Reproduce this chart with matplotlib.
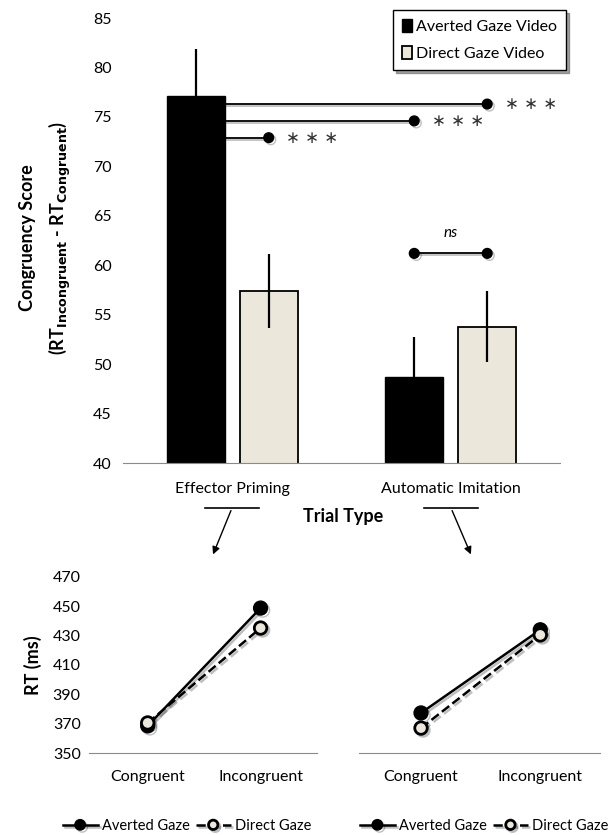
import numpy as np
import matplotlib
matplotlib.use("Agg")
import matplotlib.pyplot as plt
import matplotlib.patheffects as pe

plt.rcParams['font.family'] = ['Lato', 'DejaVu Sans']

# --- data ---
trial_types = ["Effector Priming", "Automatic Imitation"]
averted_score = [77.1, 48.7]
averted_err = [4.8, 4.0]
direct_score = [57.4, 53.8]
direct_err = [3.7, 3.6]

conditions = ["Congruent", "Incongruent"]
ep_averted_rt = [368.5, 448.8]
ep_direct_rt = [370.5, 435.2]
ai_averted_rt = [377.3, 434.0]
ai_direct_rt = [367.0, 430.5]

BLACK = "black"
CREAM = "#ebe7db"
GRAY = "#8a8a8a"
shadow = [pe.SimpleLineShadow(offset=(1.5, -1.5), alpha=0.25), pe.Normal()]

fig = plt.figure(figsize=(6.1, 8.35), dpi=100)

# --- top bar chart ---
ax = fig.add_axes([0.2016, 0.4455, 0.7164, 0.5329])
x = np.arange(len(trial_types))
w, off = 0.265, 0.167
ax.bar(x - off, averted_score, w, color=BLACK, edgecolor=BLACK, label="Averted Gaze Video",
       zorder=2)
ax.bar(x + off, direct_score, w, color=CREAM, edgecolor=BLACK, linewidth=1.3,
       label="Direct Gaze Video", zorder=2)
ax.errorbar(x - off, averted_score, yerr=averted_err, fmt="none", ecolor=BLACK,
            elinewidth=1.6, capsize=0, zorder=1)
ax.errorbar(x + off, direct_score, yerr=direct_err, fmt="none", ecolor=BLACK,
            elinewidth=1.6, capsize=0, zorder=3)

ax.set_xlim(-0.5, 1.5)
ax.set_ylim(40, 85)
ax.set_yticks(np.arange(40, 86, 5))
ax.set_xticks(x)
ax.set_xticklabels(trial_types, fontsize=11.5)
ax.tick_params(length=0, labelsize=11.5, pad=8)
ax.tick_params(axis="x", pad=14)
for s in ["top", "right", "left"]:
    ax.spines[s].set_visible(False)
ax.spines["bottom"].set_color(GRAY)

# significance lines from averted EP bar
bar_right = x[0] - off + w / 2
sig = [(x[1] + off, 76.3), (x[1] - off, 74.6), (x[0] + off, 72.9)]
for xe, yv in sig:
    ax.plot([bar_right, xe], [yv, yv], color=BLACK, lw=1.3, zorder=4, path_effects=shadow)
    ax.plot([xe], [yv], "o", color=BLACK, ms=7, zorder=5, path_effects=shadow)
    ax.text(xe + 0.08, yv, "∗ ∗ ∗", fontsize=12, color="#333333", va="center",
            ha="left", family="DejaVu Sans")
ax.plot([x[1] - off, x[1] + off], [61.2, 61.2], color=BLACK, lw=1.3, marker="o", ms=7,
        zorder=5, path_effects=shadow)
ax.text(x[1], 62.6, "ns", style="italic", ha="center", va="bottom", fontsize=11)

leg = ax.legend(loc="upper right", bbox_to_anchor=(1.025, 1.029), fontsize=11.5,
                frameon=True, fancybox=False, shadow=True, handlelength=0.6,
                handleheight=0.9, handletextpad=0.3, labelspacing=0.75,
                borderpad=0.55, borderaxespad=0.3)
leg.get_frame().set_edgecolor(BLACK)
leg.get_frame().set_linewidth(1.0)

fig.text(0.045, 0.715, "Congruency Score", rotation=90, fontsize=13, fontweight="bold",
         ha="center", va="center")
fig.text(0.098, 0.715, r"(RT$_{\mathbf{Incongruent}}$ - RT$_{\mathbf{Congruent}}$)",
         rotation=90, fontsize=13, fontweight="bold", ha="center", va="center")
fig.text(0.562, 0.381, "Trial Type", fontsize=13, fontweight="bold", ha="center",
         va="center")

# callout lines and arrows
for cx, dx in [(232, -20), (451, 21)]:
    fig.add_artist(plt.Line2D([(cx - 27) / 610, (cx + 27) / 610], [1 - 508 / 835] * 2,
                              color=BLACK, lw=1.2, transform=fig.transFigure))
    fig.add_artist(matplotlib.patches.FancyArrowPatch(
        (cx / 610, 1 - 508 / 835), ((cx + dx) / 610, 1 - 557 / 835),
        transform=fig.transFigure, arrowstyle="-|>", mutation_scale=11,
        color=BLACK, lw=1.0))

# --- bottom line charts ---
panels = [
    ([0.1459, 0.0982, 0.3738, 0.2108], ep_averted_rt, ep_direct_rt, True, 0.43),
    ([0.5885, 0.0982, 0.3950, 0.2108], ai_averted_rt, ai_direct_rt, False, 0.52),
]
for pos, av, di, show_y, lx in panels:
    bx = fig.add_axes(pos)
    xc = np.arange(len(conditions))
    bx.plot(xc, av, "-o", color=BLACK, lw=1.8, ms=10, mfc=BLACK, mec=BLACK,
            label="Averted Gaze", zorder=3, path_effects=shadow)
    bx.plot(xc, di, "--o", color=BLACK, lw=1.8, ms=9, mfc=CREAM, mec=BLACK, mew=2,
            label="Direct Gaze", zorder=4, path_effects=shadow)
    bx.set_xlim(-0.52, 1.5)
    bx.set_ylim(350, 470)
    bx.set_yticks(np.arange(350, 471, 20))
    bx.set_xticks(xc)
    bx.set_xticklabels(conditions, fontsize=11.5)
    bx.tick_params(length=0, labelsize=11.5, pad=6)
    bx.tick_params(axis="x", pad=12)
    if not show_y:
        bx.set_yticklabels([])
    for s in ["top", "right", "left"]:
        bx.spines[s].set_visible(False)
    bx.spines["bottom"].set_color(GRAY)
    bx.legend(loc="upper center", bbox_to_anchor=(lx, -0.3), ncol=2, frameon=False,
              fontsize=10.5, markerscale=0.75, handlelength=2.4, columnspacing=0.4,
              handletextpad=0.3)
    if show_y:
        bx.set_ylabel("RT (ms)", fontsize=13, fontweight="bold", labelpad=8)

fig.savefig("out.png", dpi=100)
